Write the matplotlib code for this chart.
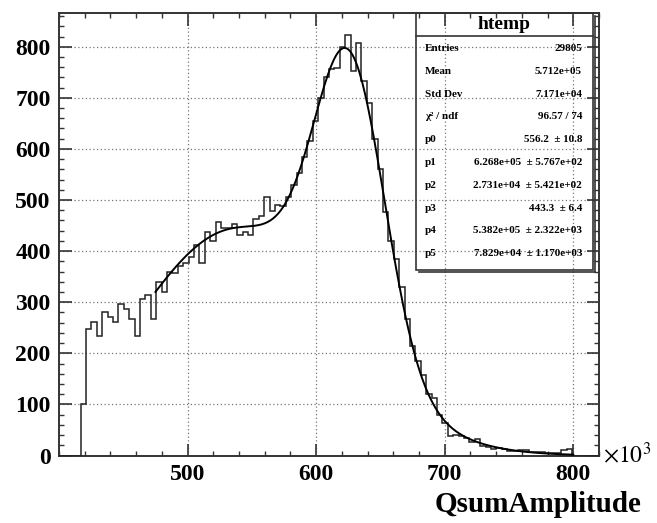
import numpy as np
import matplotlib.pyplot as plt
from matplotlib.patches import Rectangle
from matplotlib.lines import Line2D
from matplotlib.ticker import MultipleLocator

plt.rcParams['font.family'] = ['Liberation Serif', 'DejaVu Serif']
plt.rcParams['mathtext.fontset'] = 'stix'

W, H = 657, 523

# histogram binning, x in units of 10^3
nbins = 100
xmin, xmax = 400.0, 820.0

counts = [0, 0, 0, 0, 100, 247, 261, 234, 280, 272,
          261, 297, 287, 267, 233, 306, 314, 267, 340, 320,
          360, 357, 370, 376, 389, 412, 376, 438, 419, 456,
          445, 445, 453, 432, 438, 432, 462, 468, 505, 479,
          490, 488, 505, 530, 553, 585, 615, 655, 700, 740,
          757, 758, 800, 823, 752, 808, 732, 690, 620, 560,
          476, 420, 385, 330, 268, 215, 185, 158, 120, 112,
          80, 64, 38, 40, 38, 34, 27, 32, 18, 16,
          13, 14, 12, 9, 8, 11, 11, 7, 6, 6,
          5, 5, 5, 11, 12, 0, 0, 0, 0, 0]

# double gaussian fit, parameters from the stats box (x in 10^3)
fit_par = [556.2, 626.8, 27.31, 443.3, 538.2, 78.29]
fit_range = (475.0, 800.0)

stat_title = 'htemp'
stat_labels = ['Entries', 'Mean', 'Std Dev', 'χ² / ndf', 'p0', 'p1', 'p2', 'p3', 'p4', 'p5']
stat_values = ['29805', '5.712e+05', '7.171e+04', '96.57 / 74',
               '556.2  ± 10.8', '6.268e+05  ± 5.767e+02', '2.731e+04  ± 5.421e+02',
               '443.3  ± 6.4', '5.382e+05  ± 2.322e+03', '7.829e+04  ± 1.170e+03']

xticks = [500, 600, 700, 800]
yticks = [0, 100, 200, 300, 400, 500, 600, 700, 800]


def fx(x):
    return x / W


def fy(y):
    return 1 - y / H


fig = plt.figure(figsize=(W / 100, H / 100), dpi=100)
ax = fig.add_axes([fx(59), fy(455.5), fx(599) - fx(59), fy(13) - fy(455.5)])

edges = np.linspace(xmin, xmax, nbins + 1)
ax.stairs(counts, edges, baseline=0, color='#222222', lw=1.1, zorder=3)

p = fit_par
xf = np.linspace(fit_range[0], fit_range[1], 300)
yf = p[0] * np.exp(-0.5 * ((xf - p[1]) / p[2]) ** 2) + p[3] * np.exp(-0.5 * ((xf - p[4]) / p[5]) ** 2)
ax.plot(xf, yf, color='black', lw=1.4, zorder=4)

ax.set_xlim(xmin, xmax)
ax.set_ylim(0, 866)
ax.set_xticks(xticks)
ax.set_yticks(yticks)
ax.xaxis.set_minor_locator(MultipleLocator(20))
ax.yaxis.set_minor_locator(MultipleLocator(20))
ax.grid(True, which='major', linestyle=(0, (1, 2)), color='#777777', lw=0.9)
ax.set_axisbelow(True)

ax.tick_params(which='both', direction='in', top=True, right=True, color='#333333')
ax.tick_params(which='major', length=9, width=1.2)
ax.tick_params(which='minor', length=3.5, width=1.0)
ax.tick_params(axis='y', labelsize=17, pad=6)
ax.tick_params(axis='x', labelsize=17, pad=6)
for lab in ax.get_xticklabels() + ax.get_yticklabels():
    lab.set_fontweight('bold')
for s in ax.spines.values():
    s.set_color('#333333')
    s.set_linewidth(1.4)

fig.text(fx(603), fy(455), r'$\times10^{3}$', fontsize=17, ha='left', va='center')
fig.text(fx(641), fy(512), 'QsumAmplitude', fontsize=21, fontweight='bold', ha='right', va='baseline')

# stats box
bx0, bx1, by0, by1, hy = 416, 593, 13, 270, 36
fig.add_artist(Line2D([fx(bx0 + 3), fx(bx1 + 2), fx(bx1 + 2)], [fy(by1 + 2), fy(by1 + 2), fy(by0 + 3)],
                      transform=fig.transFigure, color='#333333', lw=1.2))
fig.add_artist(Rectangle((fx(bx0), fy(by1)), fx(bx1) - fx(bx0), fy(by0) - fy(by1),
                         transform=fig.transFigure, facecolor='none', edgecolor='#333333', lw=1.2))
fig.add_artist(Line2D([fx(bx0), fx(bx1)], [fy(hy), fy(hy)], transform=fig.transFigure,
                      color='#333333', lw=1.2))
fig.text(fx((bx0 + bx1) / 2), fy(24.5), stat_title, fontsize=14, fontweight='bold', ha='center', va='center')

for i, (lab, val) in enumerate(zip(stat_labels, stat_values)):
    yy = 48.5 + i * 22.8
    fig.text(fx(425), fy(yy), lab, fontsize=8, fontweight='bold', ha='left', va='center')
    fig.text(fx(582), fy(yy), val, fontsize=8, fontweight='bold', ha='right', va='center')

fig.savefig('out.png', dpi=100)
